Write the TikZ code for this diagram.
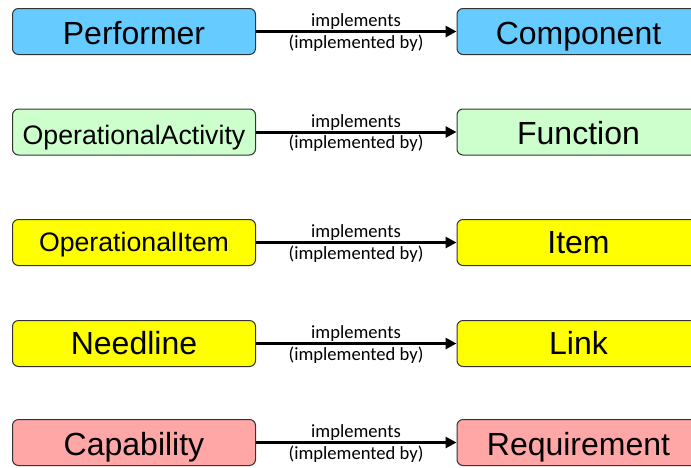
\documentclass[tikz,border=0pt]{standalone}
\usepackage{fontspec}
\setmainfont{Liberation Sans}
\newfontfamily\labelfont{Carlito}
\usetikzlibrary{arrows.meta}
\definecolor{cblue}{HTML}{66CCFF}
\definecolor{cgreen}{HTML}{CCFFCC}
\definecolor{cyellow}{HTML}{FFFF00}
\definecolor{cpink}{HTML}{FFA6A6}
\definecolor{cborder}{HTML}{333333}
\tikzset{
  box/.style={draw=cborder, line width=1pt, rounded corners=6pt,
    minimum width=243pt, minimum height=46pt, inner sep=0pt,
    text height=24pt, text depth=0pt,
    font=\fontsize{32}{36}\selectfont},
  smalltext/.style={font=\fontsize{26.7}{30}\selectfont},
  impl/.style={line width=3pt, -{Triangle[length=11pt,width=11pt]}},
  lbl/.style={anchor=base, inner sep=0pt, font=\labelfont\fontsize{18.6}{21}\selectfont}
}
\begin{document}
\begin{tikzpicture}[x=1pt,y=-1pt]
\useasboundingbox (0,0) rectangle (691,467);
\clip (0,0) rectangle (691,467);
% row 1
\node[box, fill=cblue, text height=26pt] (performer) at (134,31.5) {Performer};
\node[box, fill=cblue, text height=26pt] (component) at (578.5,31.5) {Component};
% row 2
\node[box, fill=cgreen, smalltext, text height=25pt] (opact) at (134,132) {OperationalActivity};
\node[box, fill=cgreen, text height=25pt] (function) at (578.5,132) {Function};
% row 3
\node[box, fill=cyellow, smalltext, text height=18pt] (opitem) at (134,242.5) {OperationalItem};
\node[box, fill=cyellow, text height=22pt] (item) at (578.5,242.5) {Item};
% row 4
\node[box, fill=cyellow, text height=22pt] (needline) at (134,343.5) {Needline};
\node[box, fill=cyellow, text height=22pt] (link) at (578.5,343.5) {Link};
% row 5
\node[box, fill=cpink, text height=25pt] (capability) at (134,442.5) {Capability};
\node[box, fill=cpink, text height=25pt] (requirement) at (578.5,442.5) {Requirement};
% arrows and labels
\foreach \a/\b/\y in {performer/component/31.5, opact/function/132, opitem/item/242.5, needline/link/343.5, capability/requirement/442.5}{
  \draw[impl] (\a.east) -- (\b.west);
  \node[lbl] at (356,\y-5) {implements};
  \node[lbl] at (356,\y+16.5) {(implemented by)};
}
\end{tikzpicture}
\end{document}
